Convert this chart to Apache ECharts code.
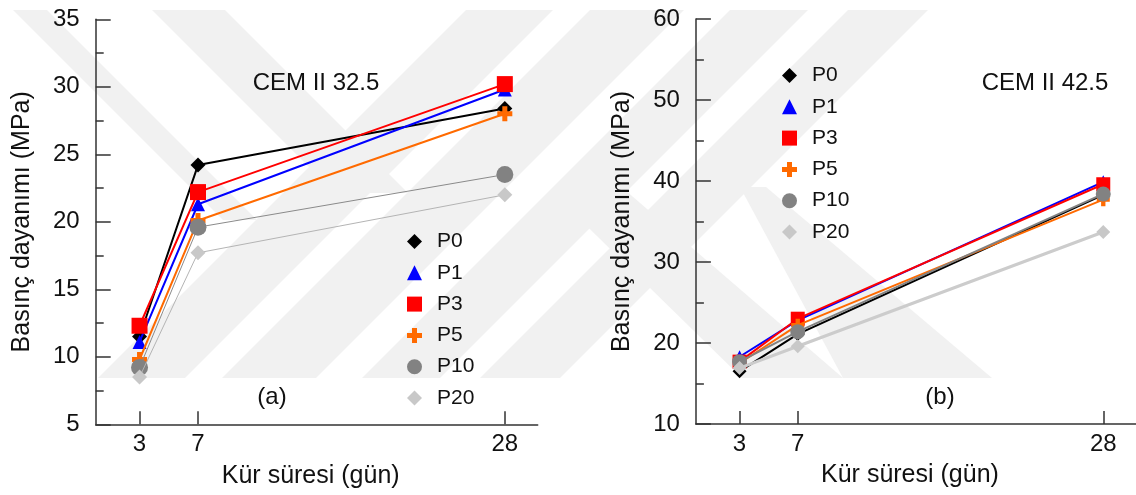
<!DOCTYPE html>
<html>
<head>
<meta charset="utf-8">
<script src="https://cdn.jsdelivr.net/npm/echarts@6/dist/echarts.min.js"></script>
<style>
  html, body { margin: 0; padding: 0; background: #fff; }
  #chart { width: 1136px; height: 495px; }
</style>
</head>
<body>
<div id="chart"></div>
<script>
// Curing ages (days)
const days = [3, 7, 28];
const seriesNames = ['P0', 'P1', 'P3', 'P5', 'P10', 'P20'];

// Compressive strength, CEM II 32.5 (MPa)
const p0_325 = [11.5, 24.2, 28.4];
const p1_325 = [11.1, 21.3, 29.8];
const p3_325 = [12.3, 22.2, 30.2];
const p5_325 = [9.8, 20.1, 28.0];
const p10_325 = [9.2, 19.6, 23.5];
const p20_325 = [8.5, 17.7, 22.0];

// Compressive strength, CEM II 42.5 (MPa)
const p0_425 = [16.5, 21.1, 38.3];
const p1_425 = [18.3, 22.8, 39.9];
const p3_425 = [17.7, 23.0, 39.6];
const p5_425 = [17.5, 22.2, 37.7];
const p10_425 = [17.7, 21.4, 38.4];
const p20_425 = [16.9, 19.6, 33.7];

const FONT = 'Liberation Sans, Arial, sans-serif';
const TXT = '#111';
const AX = '#333';
const CROSS = 'path://M4,0H8V4H12V8H8V12H4V8H0V4H4Z';

const markers = {
  P0:  { symbol: 'diamond',  color: '#000000' },
  P1:  { symbol: 'triangle', color: '#0000ff' },
  P3:  { symbol: 'rect',     color: '#ff0000' },
  P5:  { symbol: CROSS,      color: '#ff6a00' },
  P10: { symbol: 'circle',   color: '#828282' },
  P20: { symbol: 'diamond',  color: '#c8c8c8' }
};

const panelA = [p0_325, p1_325, p3_325, p5_325, p10_325, p20_325];
const panelB = [p0_425, p1_425, p3_425, p5_425, p10_425, p20_425];

const sizeA = { P0: 15, P1: 14, P3: 16, P5: 15, P10: 17, P20: 15 };
const sizeB = { P0: 14, P1: 13, P3: 14, P5: 13, P10: 15, P20: 14 };
const lineA = {
  P0: { color: '#000000', width: 2 }, P1: { color: '#0000ff', width: 2 },
  P3: { color: '#ff0000', width: 2 }, P5: { color: '#ff6a00', width: 2 },
  P10: { color: '#8a8a8a', width: 1 }, P20: { color: '#b4b4b4', width: 1 }
};
const lineB = {
  P0: { color: '#000000', width: 2 }, P1: { color: '#0000ff', width: 2 },
  P3: { color: '#ff0000', width: 2 }, P5: { color: '#ff6a00', width: 2 },
  P10: { color: '#828282', width: 2 }, P20: { color: '#cccccc', width: 3 }
};

function buildSeries(values, idx, sizes, lines) {
  return seriesNames.map((name, i) => ({
    name: name,
    type: 'line',
    xAxisIndex: idx,
    yAxisIndex: idx,
    data: days.map((d, k) => [d, values[i][k]]),
    symbol: markers[name].symbol,
    symbolSize: sizes[name],
    itemStyle: { color: markers[name].color },
    lineStyle: { color: lines[name].color, width: lines[name].width },
    emphasis: { disabled: true },
    z: 2 + i * 0.01
  }));
}

function legendFor(left, top) {
  return {
    orient: 'vertical',
    left: left,
    top: top,
    itemWidth: 15,
    itemHeight: 15,
    itemGap: 10.3,
    selectedMode: false,
    textStyle: { fontFamily: FONT, fontSize: 21, color: TXT, padding: [0, 0, 0, 10] },
    data: seriesNames.map(n => ({ name: n, icon: markers[n].symbol }))
  };
}

function xAxisFor(idx) {
  return {
    gridIndex: idx,
    type: 'value',
    min: 0,
    max: 30.25,
    name: 'Kür süresi (gün)',
    nameLocation: 'middle',
    nameGap: 39,
    nameTextStyle: { fontFamily: FONT, fontSize: 25, color: TXT, padding: [0, 12, 0, 0] },
    axisLine: { show: true, lineStyle: { color: AX, width: 1.5 } },
    axisTick: { show: true, inside: true, length: 13, customValues: days, lineStyle: { color: AX, width: 1.5 } },
    axisLabel: { customValues: days, fontFamily: FONT, fontSize: 24, color: TXT, margin: 8 },
    splitLine: { show: false }
  };
}

function yAxisFor(idx, min, max, step) {
  return {
    gridIndex: idx,
    type: 'value',
    min: min,
    max: max,
    interval: step,
    name: 'Basınç dayanımı (MPa)',
    nameLocation: 'middle',
    nameGap: 61,
    nameTextStyle: { fontFamily: FONT, fontSize: 25, color: TXT },
    axisLine: { show: true, lineStyle: { color: AX, width: 1.5 } },
    axisTick: { show: true, inside: true, length: 15, lineStyle: { color: AX, width: 1.5 } },
    minorTick: { show: true, splitNumber: 2, length: 8, lineStyle: { color: AX, width: 1.5 } },
    axisLabel: { fontFamily: FONT, fontSize: 24, color: TXT, margin: 16 },
    splitLine: { show: false },
    minorSplitLine: { show: false }
  };
}

// Faint diagonal background bands
const WM = '#f1f1f1';
function slashBand(b0, b1) {
  return [[b0, 378], [b1, 378], [b1 + 368, 10], [b0 + 368, 10]];
}
const bandShapes = [
  slashBand(98, 185),
  slashBand(222, 316),
  slashBand(362, 440),
  slashBand(480, 560),
  [[13, 10], [47, 10], [257, 220], [223, 220]],
  [[152, 10], [225, 10], [408, 193], [335, 193]],
  [[550, 190], [625, 190], [843, 378], [742, 378]],
  [[740, 187], [766, 187], [992, 378], [843, 378]]
];

function label(text, x, y) {
  return {
    type: 'text', x: x, y: y, z: 5,
    style: { text: text, fontFamily: FONT, fontSize: 24, fill: TXT, align: 'center', verticalAlign: 'middle' }
  };
}

const chart = echarts.init(document.getElementById('chart'), null, { renderer: 'canvas' });
chart.setOption({
  animation: false,
  backgroundColor: '#ffffff',
  grid: [
    { left: 95.7, top: 19.3, width: 442, height: 405 },
    { left: 695.9, top: 19, width: 442, height: 405 }
  ],
  xAxis: [xAxisFor(0), xAxisFor(1)],
  yAxis: [yAxisFor(0, 5, 35, 5), yAxisFor(1, 10, 60, 10)],
  legend: [legendFor(402, 226), legendFor(777, 60)],
  graphic: bandShapes.map(pts => ({
    type: 'polygon', z: -10, silent: true,
    shape: { points: pts }, style: { fill: WM }
  })).concat([
    label('CEM II 32.5', 316, 83),
    label('(a)', 272, 397),
    label('CEM II 42.5', 1045, 83),
    label('(b)', 940, 397)
  ]),
  series: buildSeries(panelA, 0, sizeA, lineA).concat(buildSeries(panelB, 1, sizeB, lineB))
});
</script>
</body>
</html>
